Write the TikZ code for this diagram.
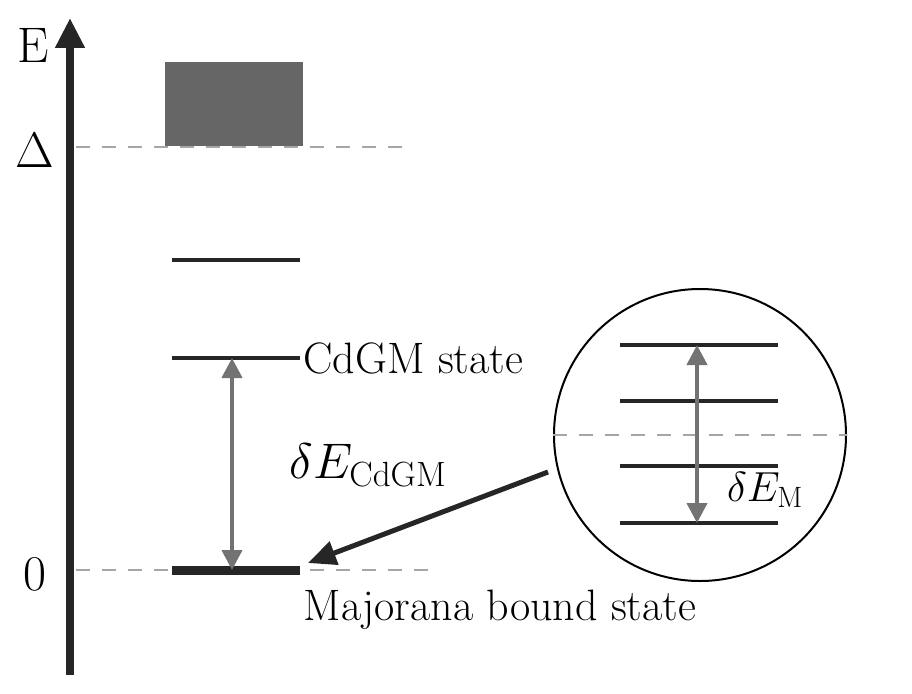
\RequirePackage{fix-cm}
\documentclass[tikz,border=0pt]{standalone}
\usepackage{tikz}
\usetikzlibrary{arrows.meta, positioning, calc}

\begin{document}
\begin{tikzpicture}[
    x=1pt, y=-1pt,
    level/.style={line width=4.5pt, black!85},
    gsdash/.style={dashed, gray!70, line width=2pt, dash pattern=on 14pt off 12pt},
    gap/.style={gray!90!black, line width=4pt, {Triangle[length=20pt,width=20pt]}-{Triangle[length=20pt,width=20pt]}},
    lbl/.style={font=\fontsize{44}{50}\selectfont},
    big/.style={font=\fontsize{50}{58}\selectfont}
]
\useasboundingbox (0,0) rectangle (912,693);

% energy axis
\coordinate (axbot) at (70,675);
\coordinate (axtop) at (70,18);
\draw[line width=8pt, black!85, -{Triangle[length=30pt,width=28pt]}] (axbot) -- (axtop);
\node[big] (elabel) at (33,45) {E};
\node[big] (dlabel) at (35,150) {$\Delta$};
\node[big] (zlabel) at (35,574) {0};

% continuum
\node[draw=none, fill=black!60, minimum width=138pt, minimum height=83pt, inner sep=0] (cont) at (234,104) {};
\draw[gsdash] (76,147) -- (402,147);

% CdGM levels
\coordinate (l1a) at (172,260); \coordinate (l1b) at (300,260);
\coordinate (l2a) at (172,358); \coordinate (l2b) at (300,358);
\draw[level] (l1a) -- (l1b);
\draw[level] (l2a) -- (l2b);
\node[lbl, anchor=west] (cdgm) at (300,358) {CdGM state};

% Majorana level
\draw[gsdash] (76,570) -- (432,570);
\coordinate (ma) at (172,570); \coordinate (mb) at (300,570);
\draw[line width=9pt, black!85] (ma) -- (mb);
\node[lbl] (mbs) at (500,610) {Majorana bound state};

% gap arrow
\coordinate (ga) at (232,358); \coordinate (gb) at (232,570);
\draw[gap] (ga) -- (gb);
\node[big] (dcdgm) at (368,465) {$\delta E_{\mathrm{CdGM}}$};

% zoom circle
\node[circle, draw, line width=2pt, minimum size=292pt, inner sep=0] (zoom) at (700,435) {};
\draw[gsdash] (zoom.west) -- (zoom.east);
\foreach \yy in {345,401,466,523} {
  \draw[level] (620,\yy) -- (778,\yy);
}
\coordinate (za) at (697,345); \coordinate (zb) at (697,523);
\draw[gap] (za) -- (zb);
\node[font=\fontsize{42}{48}\selectfont] (dem) at (765,490) {$\delta E_{\mathrm{M}}$};

% pointer
\coordinate (pstart) at (548,472);
\coordinate (pend) at (308,563);
\draw[line width=5pt, black!85, -{Triangle[length=28pt,width=24pt]}] (pstart) -- (pend);
\end{tikzpicture}
\end{document}
